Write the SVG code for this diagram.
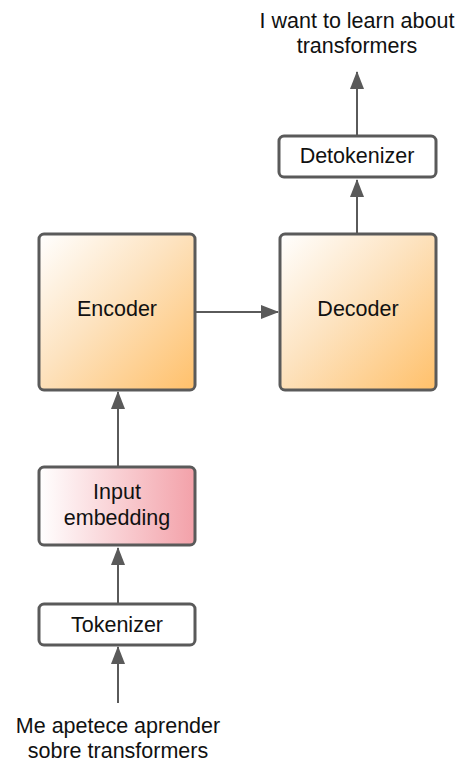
<svg xmlns="http://www.w3.org/2000/svg" width="474" height="776" viewBox="0 0 474 776">
<style>
.box{stroke:#5a5a5a;stroke-width:3}
.t{font-family:"Liberation Sans",Arial,sans-serif;font-size:21.5px;fill:#111;text-anchor:middle}
.c{stroke:#5a5a5a;stroke-width:2;fill:none;marker-end:url(#ah)}
</style>
<defs>
<linearGradient id="og" x1="0" y1="0" x2="1" y2="1">
<stop offset="0" stop-color="#ffffff"/>
<stop offset="0.45" stop-color="#fde3c0"/>
<stop offset="1" stop-color="#ffc06a"/>
</linearGradient>
<linearGradient id="pg" x1="0" y1="0" x2="1" y2="0">
<stop offset="0" stop-color="#ffffff"/>
<stop offset="1" stop-color="#f3a1a9"/>
</linearGradient>
<marker id="ah" viewBox="0 0 18 14" refX="17" refY="7" markerWidth="18" markerHeight="14" orient="auto" markerUnits="userSpaceOnUse">
<path d="M0,0 L18,7 L0,14 Z" fill="#5a5a5a"/>
</marker>
</defs>
<g id="connectors">
<line x1="118" y1="703" x2="118" y2="647" class="c"/>
<line x1="118" y1="604" x2="118" y2="548" class="c"/>
<line x1="118" y1="467" x2="118" y2="392" class="c"/>
<line x1="196" y1="312" x2="278" y2="312" class="c"/>
<line x1="357" y1="234" x2="357" y2="180" class="c"/>
<line x1="357" y1="136" x2="357" y2="72" class="c"/>
</g>
<g id="input-text">
<text class="t" x="118" y="733">Me apetece aprender</text>
<text class="t" x="118" y="758">sobre transformers</text>
</g>
<g id="tokenizer">
<rect class="box" x="39" y="604" width="156" height="41" rx="5" fill="#fff"/>
<text class="t" x="117" y="632">Tokenizer</text>
</g>
<g id="input-embedding">
<rect class="box" x="39" y="467" width="156" height="78" rx="5" fill="url(#pg)"/>
<text class="t" x="117" y="499">Input</text>
<text class="t" x="117" y="525">embedding</text>
</g>
<g id="encoder">
<rect class="box" x="39" y="234" width="156" height="156" rx="5" fill="url(#og)"/>
<text class="t" x="117" y="316">Encoder</text>
</g>
<g id="decoder">
<rect class="box" x="280" y="234" width="156" height="156" rx="5" fill="url(#og)"/>
<text class="t" x="358" y="316">Decoder</text>
</g>
<g id="detokenizer">
<rect class="box" x="279" y="136" width="157" height="41" rx="5" fill="#fff"/>
<text class="t" x="357" y="163">Detokenizer</text>
</g>
<g id="output-text">
<text class="t" x="357" y="28">I want to learn about</text>
<text class="t" x="357" y="53">transformers</text>
</g>
</svg>
